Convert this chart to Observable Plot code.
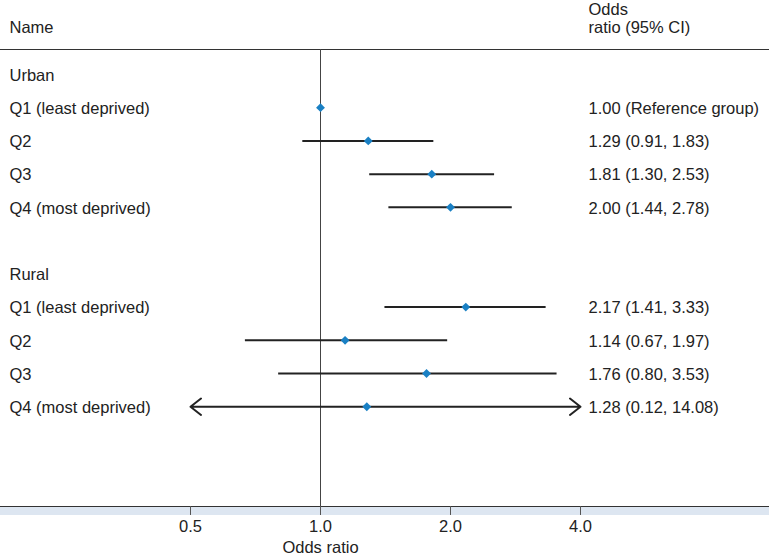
<!DOCTYPE html>
<html><head><meta charset="utf-8">
<script src="https://cdn.jsdelivr.net/npm/d3@7"></script>
<script src="https://cdn.jsdelivr.net/npm/@observablehq/plot@0.6"></script>
<style>
body{margin:0;background:#fff} svg{display:block}
</style>
</head><body><div id="chart"></div>
<script>
const groups = ["Urban", "Rural"];
const names = ["Q1 (least deprived)", "Q2", "Q3", "Q4 (most deprived)"];
const urbanOR = [1.00, 1.29, 1.81, 2.00];
const urbanLo = [null, 0.91, 1.30, 1.44];
const urbanHi = [null, 1.83, 2.53, 2.78];
const ruralOR = [2.17, 1.14, 1.76, 1.28];
const ruralLo = [1.41, 0.67, 0.80, 0.12];
const ruralHi = [3.33, 1.97, 3.53, 14.08];
const xTicks = [0.5, 1.0, 2.0, 4.0];
const axisMin = 0.5, axisMax = 4.0;

const series = [
  {group: groups[0], or: urbanOR, lo: urbanLo, hi: urbanHi},
  {group: groups[1], or: ruralOR, lo: ruralLo, hi: ruralHi}
];

// rows: group heading, 4 quintiles, blank row
const rows = [];
let r = 0;
for (const s of series) {
  rows.push({row: r++, name: s.group, heading: true});
  names.forEach((n, i) => {
    const or = s.or[i], lo = s.lo[i], hi = s.hi[i];
    rows.push({
      row: r++, name: n, or, lo, hi,
      label: lo == null ? `${or.toFixed(2)} (Reference group)` : `${or.toFixed(2)} (${lo.toFixed(2)}, ${hi.toFixed(2)})`
    });
  });
  r++;
}
const est = rows.filter(d => d.or != null);
const halves = [];
for (const d of est) {
  if (d.lo == null) continue;
  halves.push({row: d.row, from: d.or, to: Math.max(d.lo, axisMin), arrow: d.lo < axisMin});
  halves.push({row: d.row, from: d.or, to: Math.min(d.hi, axisMax), arrow: d.hi > axisMax});
}

const font = "'Liberation Sans', Arial, Helvetica, sans-serif";
const fs = 16.5;
const yTop = -0.75, yBottom = 13, yBand = 13.27;
const fmt = d3.format(".1f");

const chart = Plot.plot({
  width: 769,
  height: 556,
  marginLeft: 0,
  marginRight: 0,
  marginTop: 49,
  marginBottom: 50,
  style: {fontFamily: font, fontSize: fs + "px", color: "#222", background: "#fff"},
  x: {type: "log", domain: [axisMin, axisMax], range: [190, 580], axis: null},
  y: {domain: [yTop, yBottom], range: [49, 506], axis: null},
  marks: [
    Plot.rect([0], {y1: yBottom, y2: yBand, fill: "#dde6f1", clip: false}),
    Plot.ruleY([yTop, yBottom], {stroke: "#333", strokeWidth: 1.2}),
    Plot.ruleX([1], {y1: yTop, y2: yBand, stroke: "#444", strokeWidth: 1}),
    Plot.ruleX(xTicks, {y1: yBottom, y2: yBand, stroke: "#555", strokeWidth: 1}),
    Plot.text(xTicks, {x: d => d, text: d => fmt(d), frameAnchor: "bottom", lineAnchor: "middle", dy: 20, fontSize: fs, fill: "#222"}),
    Plot.ruleY(halves.filter(d => !d.arrow), {y: "row", x1: "from", x2: "to", stroke: "#222", strokeWidth: 2}),
    Plot.arrow(halves.filter(d => d.arrow), {x1: "from", x2: "to", y1: "row", y2: "row", stroke: "#222", strokeWidth: 2, headAngle: 76, headLength: 10}),
    Plot.dot(est, {x: "or", y: "row", symbol: "diamond2", fill: "#1a80c4", stroke: "none", r: 4}),
    Plot.text(rows, {y: "row", text: "name", frameAnchor: "left", dx: 9, dy: 1, textAnchor: "start", fontSize: fs, fill: "#222"}),
    Plot.text(est, {y: "row", text: "label", frameAnchor: "left", dx: 588, dy: 1, textAnchor: "start", fontSize: fs, fill: "#222"}),
    Plot.text(["Name"], {frameAnchor: "top-left", lineAnchor: "middle", dx: 9, dy: -22, textAnchor: "start", fontSize: fs, fill: "#222"}),
    Plot.text(["Odds\nratio (95% CI)"], {frameAnchor: "top-left", lineAnchor: "middle", dx: 588, dy: -31, textAnchor: "start", lineHeight: 1.1, fontSize: fs, fill: "#222"}),
    Plot.text(["Odds ratio"], {x: () => 1, frameAnchor: "bottom", lineAnchor: "middle", dy: 41, fontSize: fs, fill: "#222"})
  ]
});
document.getElementById("chart").append(chart);
</script>
</body></html>
